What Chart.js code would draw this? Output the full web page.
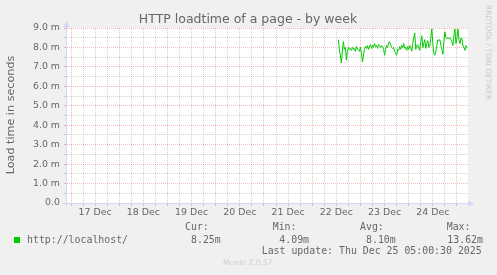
<!DOCTYPE html>
<html lang="en">
<head>
<meta charset="UTF-8">
<title>HTTP loadtime of a page - by week</title>
<script src="https://cdn.jsdelivr.net/npm/chart.js"></script>
<style>
  html, body { margin: 0; padding: 0; background: #f0f0f0; }
  #wrap { width: 497px; height: 275px; }
</style>
</head>
<body>
<div id="wrap"><canvas id="loadChart" width="497" height="275"></canvas></div>
<script>
// hours are counted from 17 Dec 00:00
const dayLabels = ['17 Dec', '18 Dec', '19 Dec', '20 Dec', '21 Dec', '22 Dec', '23 Dec', '24 Dec'];
const yTickValues = [0, 1, 2, 3, 4, 5, 6, 7, 8, 9];
const startHour = 133;
const stepHours = 0.5;
// load time in ms, one sample every 30 minutes
const loadTimes = [
  8.4, 7.9, 7.6, 7.2, 7.8, 8.3, 7.9, 8.0, 7.35, 7.8,
  8.0, 7.9, 7.95, 7.85, 8.0, 7.9, 7.95, 7.8, 8.05, 7.9,
  7.85, 7.8, 8.0, 7.7, 7.25, 7.6, 7.9, 8.05, 7.95, 8.1,
  7.9, 8.05, 8.15, 7.95, 8.1, 8.0, 8.2, 8.05, 8.1, 7.95,
  8.15, 8.1, 8.0, 8.1, 8.05, 7.9, 7.6, 7.9, 8.1, 8.0,
  8.25, 8.3, 8.15, 8.0, 7.95, 8.0, 7.8, 7.7, 7.6, 7.9,
  7.85, 8.05, 7.9, 8.1, 8.0, 8.2, 7.95, 8.0, 7.85, 8.05,
  7.9, 8.1, 8.0, 7.8, 8.2, 8.5, 8.75, 7.9, 8.1, 8.15,
  7.95, 7.85, 8.3, 8.6, 8.0, 8.2, 8.4, 7.95, 8.2, 8.35,
  8.0, 8.1, 8.5, 8.95, 8.2, 7.7, 7.6, 7.8, 8.1, 8.4,
  8.35, 8.4, 8.1, 7.9, 7.65, 8.3, 8.8, 8.5, 8.45, 8.5,
  8.45, 8.5, 8.4, 8.3, 8.1, 8.6, 8.95, 8.2, 8.5, 8.95,
  8.4, 8.2, 8.5, 8.45, 8.1, 8.0, 7.85, 8.1, 8.0
];
const seriesName = 'http://localhost/';
const statHeads = ['Cur:', 'Min:', 'Avg:', 'Max:'];
const statValues = ['8.25m', '4.09m', '8.10m', '13.62m'];
const lastUpdate = 'Last update: Thu Dec 25 05:00:30 2025';

const points = loadTimes.map((v, i) => ({ x: startHour + i * stepHours, y: v }));

const SANS = '"DejaVu Sans", sans-serif';
const MONO = '"DejaVu Sans Mono", monospace';
const FONT_COLOR = '#666666';
const AXIS_COLOR = '#cfd6f8';
const MAJOR = 'rgba(233, 0, 0, 0.28)';
const MINOR = 'rgba(140, 140, 140, 0.38)';

const muninDecor = {
  id: 'muninDecor',
  beforeDraw(chart) {
    const { ctx, chartArea: a } = chart;
    ctx.save();
    ctx.fillStyle = '#f0f0f0';
    ctx.fillRect(0, 0, chart.width, chart.height);
    ctx.fillStyle = '#ffffff';
    ctx.fillRect(a.left, a.top, a.right - a.left, a.bottom - a.top);
    ctx.restore();
  },
  afterDraw(chart) {
    const { ctx, chartArea: a } = chart;
    ctx.save();

    // axes with arrows
    ctx.strokeStyle = AXIS_COLOR;
    ctx.fillStyle = AXIS_COLOR;
    ctx.lineWidth = 1;
    ctx.beginPath();
    ctx.moveTo(63, a.bottom + 0.5);
    ctx.lineTo(a.right + 2, a.bottom + 0.5);
    ctx.moveTo(a.left - 0.5, a.bottom + 3);
    ctx.lineTo(a.left - 0.5, a.top - 2);
    ctx.stroke();
    ctx.beginPath();
    ctx.moveTo(a.right + 6, a.bottom + 0.5);
    ctx.lineTo(a.right, a.bottom - 2.5);
    ctx.lineTo(a.right, a.bottom + 3.5);
    ctx.fill();
    ctx.beginPath();
    ctx.moveTo(a.left - 0.5, a.top - 7);
    ctx.lineTo(a.left - 3.5, a.top - 1);
    ctx.lineTo(a.left + 2.5, a.top - 1);
    ctx.fill();

    // title
    ctx.fillStyle = FONT_COLOR;
    ctx.font = '12.5px ' + SANS;
    ctx.textAlign = 'center';
    ctx.textBaseline = 'alphabetic';
    ctx.fillText('HTTP loadtime of a page - by week', 248, 23);

    // y axis title
    ctx.save();
    ctx.translate(11, 115);
    ctx.rotate(-Math.PI / 2);
    ctx.font = '11.2px ' + SANS;
    ctx.textBaseline = 'middle';
    ctx.fillText('Load time in seconds', 0, 0);
    ctx.restore();

    // watermark
    ctx.save();
    ctx.translate(487.5, 5);
    ctx.rotate(Math.PI / 2);
    ctx.fillStyle = '#c8c8c8';
    ctx.font = '7.4px ' + SANS;
    ctx.textAlign = 'left';
    ctx.textBaseline = 'middle';
    ctx.fillText('RRDTOOL / TOBI OETIKER', 0, 0);
    ctx.restore();

    // legend
    ctx.fillStyle = '#00cc00';
    ctx.fillRect(14, 237, 6, 6);
    ctx.fillStyle = FONT_COLOR;
    ctx.font = '9.9px ' + MONO;
    ctx.textAlign = 'left';
    ctx.textBaseline = 'middle';
    ctx.fillText(seriesName, 27, 240);
    const headX = [185, 272.7, 360, 446.7];
    const valX = [191, 279.3, 366, 447.3];
    statHeads.forEach((h, i) => ctx.fillText(h, headX[i], 227.7));
    statValues.forEach((v, i) => ctx.fillText(v, valX[i], 240));
    ctx.fillText(lastUpdate, 261.7, 251.7);

    ctx.fillStyle = '#cccccc';
    ctx.font = '7.6px ' + SANS;
    ctx.fillText('Munin 2.0.57', 223, 263.3);
    ctx.restore();
  }
};

new Chart(document.getElementById('loadChart'), {
  type: 'line',
  data: {
    datasets: [{
      label: seriesName,
      data: points,
      borderColor: '#00cc00',
      borderWidth: 1,
      pointRadius: 0,
      tension: 0,
      fill: false
    }]
  },
  options: {
    responsive: false,
    animation: false,
    layout: { padding: { top: 28, right: 29, bottom: 0, left: 0 } },
    plugins: { legend: { display: false }, tooltip: { enabled: false } },
    scales: {
      x: {
        type: 'linear',
        min: -2,
        max: 197.5,
        afterFit: s => { s.height = 72; },
        afterBuildTicks: s => {
          const t = [];
          for (let h = 0; h <= 192; h += 6) t.push({ value: h });
          s.ticks = t;
        },
        border: { display: false, dash: [1, 1] },
        grid: {
          lineWidth: 1,
          color: c => (c.tick && c.tick.value % 24 === 0 ? MAJOR : MINOR),
          tickColor: c => (c.tick && c.tick.value % 24 === 0 ? MAJOR : MINOR),
          tickLength: 3
        },
        ticks: {
          autoSkip: false,
          maxRotation: 0,
          minRotation: 0,
          padding: 1,
          color: FONT_COLOR,
          font: { family: SANS, size: 9.4 },
          callback: v => (v % 24 === 12 ? dayLabels[(v - 12) / 24] : '')
        }
      },
      y: {
        min: 0,
        max: 9,
        afterFit: s => { s.width = 67; },
        afterBuildTicks: s => {
          const t = [];
          yTickValues.forEach(v => {
            t.push({ value: v });
            if (v < 9) t.push({ value: v + 0.5 });
          });
          s.ticks = t;
        },
        border: { display: false, dash: [1, 1] },
        grid: {
          lineWidth: 1,
          color: c => (c.tick && c.tick.value % 1 === 0 ? MAJOR : MINOR),
          tickColor: c => (c.tick && c.tick.value % 1 === 0 ? MAJOR : MINOR),
          tickLength: 3
        },
        ticks: {
          autoSkip: false,
          padding: 4,
          color: FONT_COLOR,
          font: { family: SANS, size: 9.4 },
          callback: v => (v % 1 !== 0 ? '' : (v === 0 ? '0.0' : v.toFixed(1) + ' m'))
        }
      }
    }
  },
  plugins: [muninDecor]
});
</script>
</body>
</html>
